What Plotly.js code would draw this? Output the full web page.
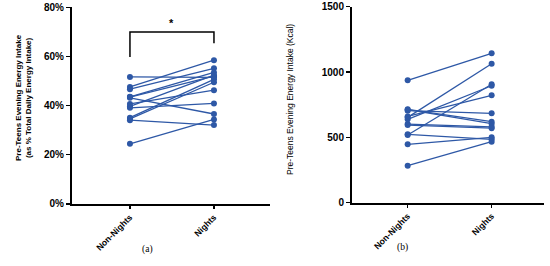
<!DOCTYPE html>
<html>
<head>
<meta charset="utf-8">
<script src="https://cdn.plot.ly/plotly-3.0.1.min.js"></script>
<style>
  body { margin: 0; padding: 0; background: #fff; }
  #fig { width: 550px; height: 266px; }
</style>
</head>
<body>
<div id="fig"></div>
<script>
"use strict";
// categories on the x axis
var groups = ["Non-Nights", "Nights"];

// (a) evening intake as % of total daily intake, one pair per child
var pctNonNights = [51.7, 47.6, 46.7, 43.6, 43.2, 43.5, 40.7, 39.7, 39.1, 35.1, 34.1, 34.6, 24.5];
var pctNights    = [51.5, 58.5, 55.2, 53.5, 36.6, 52.0, 46.3, 52.4, 40.9, 50.7, 32.1, 49.5, 34.4];

// (b) evening intake in kcal, one pair per child
var kcalNonNights = [937, 653, 518, 638, 660, 704, 715, 712, 602, 594, 523, 447, 283];
var kcalNights    = [1143, 1064, 906, 895, 822, 684, 620, 605, 581, 570, 485, 500, 467];

// significance bracket on panel (a)
var bracketX = [0, 0, 1, 1];
var bracketY = [59.8, 70, 70, 65.4];
var starText = "*";

var pctTicks = [0, 20, 40, 60, 80];
var kcalTicks = [0, 500, 1000, 1500];

var blue = "#2e58a6";

var traces = [];

function addPairs(a, b, xa, ya) {
  // one line per child, Non-Nights -> Nights
  for (var i = 0; i < a.length; i++) {
    traces.push({
      x: [0, 1], y: [a[i], b[i]],
      xaxis: xa, yaxis: ya,
      type: "scatter", mode: "lines+markers",
      line: {color: blue, width: 1.3},
      marker: {color: blue, size: 6},
      showlegend: false, hoverinfo: "skip"
    });
  }
}

addPairs(pctNonNights, pctNights, "x", "y");
addPairs(kcalNonNights, kcalNights, "x2", "y2");

traces.push({
  x: bracketX, y: bracketY, xaxis: "x", yaxis: "y",
  type: "scatter", mode: "lines",
  line: {color: "#000", width: 1.5},
  showlegend: false, hoverinfo: "skip"
});

var tickFont = {family: "Liberation Sans, Arial, sans-serif", size: 10, color: "#000", weight: "bold"};
var catFont = {family: "Liberation Sans, Arial, sans-serif", size: 8.7, color: "#000", weight: "bold"};

function xAxis(range, domain, anchor) {
  return {
    domain: domain, range: range, anchor: anchor,
    tickmode: "array", tickvals: [0, 1], ticktext: groups,
    tickangle: -45, tickfont: catFont,
    ticks: "outside", ticklen: 3, tickwidth: 1.2, tickcolor: "#000",
    showline: true, linecolor: "#000", linewidth: 2,
    showgrid: false, zeroline: false, fixedrange: true
  };
}

function yAxis(range, domain, anchor, vals, suffix) {
  return {
    domain: domain, range: range, anchor: anchor,
    tickmode: "array", tickvals: vals,
    ticktext: vals.map(function (v) { return v + suffix; }),
    tickfont: tickFont,
    ticks: "outside", ticklen: 4, tickwidth: 1.2, tickcolor: "#000",
    showline: true, linecolor: "#000", linewidth: 2,
    showgrid: false, zeroline: false, fixedrange: true
  };
}

var layout = {
  width: 550, height: 266,
  margin: {l: 0, r: 0, t: 0, b: 0},
  paper_bgcolor: "#fff", plot_bgcolor: "#fff",
  showlegend: false,
  xaxis: xAxis([-0.69, 1.667], [0.1309, 0.4909], "y"),
  yaxis: yAxis([0, 80], [0.2331, 0.9726], "x", pctTicks, "%"),
  xaxis2: xAxis([-0.663, 1.623], [0.64, 0.989], "y2"),
  yaxis2: yAxis([0, 1500], [0.2380, 0.9748], "x2", kcalTicks, ""),
  annotations: [
    {text: starText, xref: "x", yref: "y", x: 0.5, y: 73.5, showarrow: false,
     font: {family: "Liberation Sans, Arial, sans-serif", size: 11, color: "#000", weight: "bold"}},
    {text: "Pre-Teens Evening Energy Intake<br>(as % Total Daily Energy Intake)",
     xref: "paper", yref: "paper", x: 11.5 / 550, y: 1 - 98 / 266,
     textangle: -90, showarrow: false, align: "center",
     font: {family: "Liberation Sans, Arial, sans-serif", size: 8, color: "#000", weight: "bold"}},
    {text: "Pre-Teens Evening Energy Intake (Kcal)",
     xref: "paper", yref: "paper", x: 290 / 550, y: 1 - 100 / 266,
     textangle: -90, showarrow: false,
     font: {family: "Liberation Sans, Arial, sans-serif", size: 8.5, color: "#000"}},
    {text: "(a)", xref: "paper", yref: "paper", x: 140 / 550, y: 1 - 257 / 266,
     showarrow: false, font: {family: "Liberation Serif, Times New Roman, serif", size: 9.5, color: "#000"}},
    {text: "(b)", xref: "paper", yref: "paper", x: 410 / 550, y: 1 - 255 / 266,
     showarrow: false, font: {family: "Liberation Serif, Times New Roman, serif", size: 9.5, color: "#000"}}
  ]
};

Plotly.newPlot("fig", traces, layout, {staticPlot: true, displayModeBar: false});
</script>
</body>
</html>
